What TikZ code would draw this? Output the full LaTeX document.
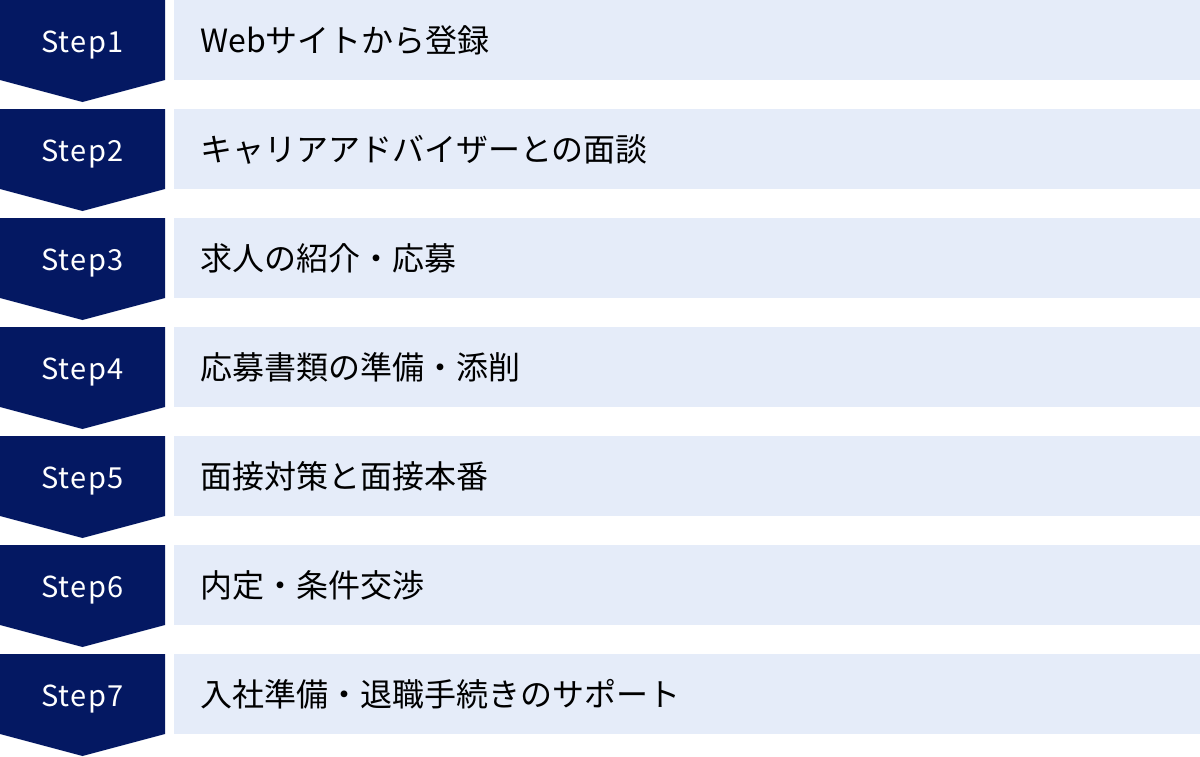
\documentclass[tikz,border=0pt]{standalone}
\usepackage{fontspec}
\setmainfont{Noto Sans CJK JP}
\newfontfamily\stepfont[LetterSpace=5]{Noto Sans CJK JP}
\definecolor{stepnavy}{HTML}{041862}
\definecolor{stepbg}{HTML}{E5ECF9}

\begin{document}
\begin{tikzpicture}[x=1pt,y=-1pt,
    stepbadge/.style = {anchor=base, inner sep=0pt, text=white,
                        font=\stepfont\fontsize{29}{34}\selectfont},
    steptext/.style  = {anchor=west, inner sep=0pt, font=\fontsize{32}{38}\selectfont}]
  \useasboundingbox (0,0) rectangle (1200,756);
  \foreach \i/\txt in {1/Webサイトから登録,
                       2/キャリアアドバイザーとの面談,
                       3/求人の紹介・応募,
                       4/応募書類の準備・添削,
                       5/面接対策と面接本番,
                       6/内定・条件交渉,
                       7/入社準備・退職手続きのサポート} {
    \pgfmathsetmacro\top{(\i-1)*109}
    \fill[stepnavy] (0,\top) -- (165,\top) -- (165,\top+80)
      -- (82.5,\top+102) -- (0,\top+80) -- cycle;
    \fill[stepbg] (174,\top) rectangle (1200,\top+80);
    \node[stepbadge] (step\i) at (82.5,\top+52) {Step\i};
    \node[steptext] (label\i) at (200,\top+40) {\txt};
  }
\end{tikzpicture}
\end{document}
